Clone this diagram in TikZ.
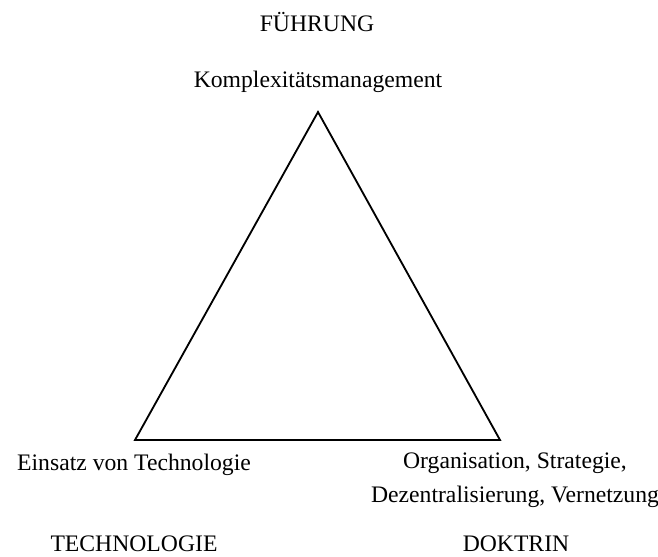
\documentclass[tikz,border=0pt]{standalone}
\usepackage{fontspec}
\setmainfont{Liberation Serif}
\tikzset{
  etiquette/.style={anchor=base, inner sep=0pt, font=\fontsize{14.2}{20.4}\selectfont},
  cote/.style={line width=1.1pt, line join=miter}
}
\begin{document}
\begin{tikzpicture} [x=0.6pt,y=0.6pt]% ------ Triangle -----------------
    \useasboundingbox (0,0) rectangle (658,556);
    \coordinate (haut) at (318,444);
    \coordinate (gauche) at (135,116);
    \coordinate (droite) at (500,116);
    \draw [cote] (haut)--(gauche)--(droite)--cycle;
    % sommets
    \node [etiquette] (fuehrung) at (317,524) {FÜHRUNG};
    \node [etiquette] (komplex) at (318,468) {Komplexitätsmanagement};
    \node [etiquette] (einsatz) at (134,86) {Einsatz von Technologie};
    \node [etiquette, align=center] (organisation) at (515,54)
          {Organisation, Strategie,\\Dezentralisierung, Vernetzung};
    \node [etiquette] (technologie) at (134,5) {TECHNOLOGIE};
    \node [etiquette] (doktrin) at (516,5) {DOKTRIN};
\end{tikzpicture}
\end{document}
